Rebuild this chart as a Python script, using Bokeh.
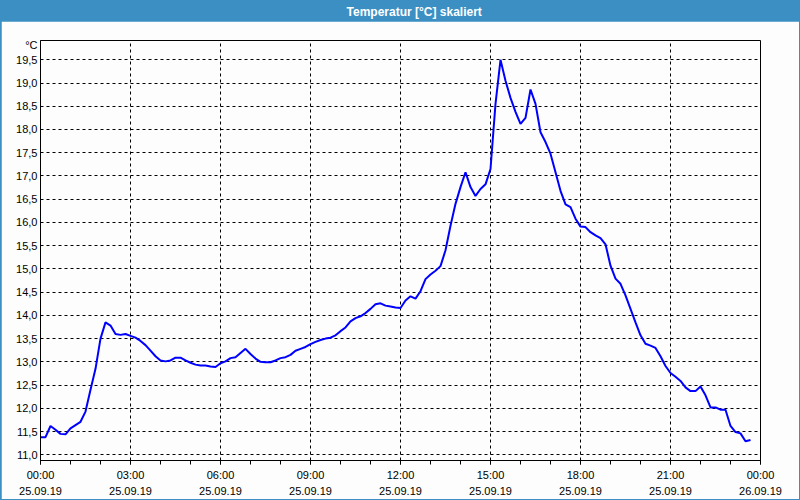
from bokeh.plotting import figure
from bokeh.layouts import column
from bokeh.models import FixedTicker, Range1d
from bokeh.embed import file_html
from bokeh.resources import INLINE
from bokeh.core.properties import value

# ---------------- data ----------------
title_text = "Temperatur [°C] skaliert"
unit_text = "°C"

times = [
    "00:00", "00:10", "00:20", "00:30", "00:40", "00:50",
    "01:00", "01:10", "01:20", "01:30", "01:40", "01:50",
    "02:00", "02:10", "02:20", "02:30", "02:40", "02:50",
    "03:00", "03:10", "03:20", "03:30", "03:40", "03:50",
    "04:00", "04:10", "04:20", "04:30", "04:40", "04:50",
    "05:00", "05:10", "05:20", "05:30", "05:40", "05:50",
    "06:00", "06:10", "06:20", "06:30", "06:40", "06:50",
    "07:00", "07:10", "07:20", "07:30", "07:40", "07:50",
    "08:00", "08:10", "08:20", "08:30", "08:40", "08:50",
    "09:00", "09:10", "09:20", "09:30", "09:40", "09:50",
    "10:00", "10:10", "10:20", "10:30", "10:40", "10:50",
    "11:00", "11:10", "11:20", "11:30", "11:40", "11:50",
    "12:00", "12:10", "12:20", "12:30", "12:40", "12:50",
    "13:00", "13:10", "13:20", "13:30", "13:40", "13:50",
    "14:00", "14:10", "14:20", "14:30", "14:40", "14:50",
    "15:00", "15:10", "15:20", "15:30", "15:40", "15:50",
    "16:00", "16:10", "16:20", "16:30", "16:40", "16:50",
    "17:00", "17:10", "17:20", "17:30", "17:40", "17:50",
    "18:00", "18:10", "18:20", "18:30", "18:40", "18:50",
    "19:00", "19:10", "19:20", "19:30", "19:40", "19:50",
    "20:00", "20:10", "20:20", "20:30", "20:40", "20:50",
    "21:00", "21:10", "21:20", "21:30", "21:40", "21:50",
    "22:00", "22:10", "22:20", "22:30", "22:40", "22:50",
    "23:00", "23:10", "23:20", "23:30", "23:40",
]

temps = [
    11.38, 11.38, 11.62, 11.54, 11.45, 11.44,
    11.57, 11.64, 11.71, 11.93, 12.40, 12.85,
    13.50, 13.85, 13.78, 13.60, 13.58, 13.60,
    13.56, 13.52, 13.45, 13.36, 13.24, 13.12,
    13.03, 13.01, 13.03, 13.09, 13.09, 13.03,
    12.98, 12.94, 12.92, 12.92, 12.90, 12.89,
    12.97, 13.01, 13.08, 13.10, 13.19, 13.28,
    13.17, 13.07, 13.00, 12.99, 12.99, 13.03,
    13.08, 13.10, 13.15, 13.24, 13.28, 13.32,
    13.38, 13.43, 13.47, 13.50, 13.52, 13.57,
    13.66, 13.74, 13.87, 13.94, 13.98, 14.05,
    14.14, 14.24, 14.26, 14.21, 14.19, 14.17,
    14.16, 14.32, 14.41, 14.36, 14.52, 14.78,
    14.88, 14.96, 15.06, 15.40, 15.93, 16.40,
    16.76, 17.08, 16.76, 16.57, 16.72, 16.82,
    17.15, 18.55, 19.50, 19.05, 18.68, 18.38,
    18.12, 18.25, 18.86, 18.55, 17.94, 17.73,
    17.48, 17.08, 16.68, 16.39, 16.33, 16.08,
    15.91, 15.90, 15.79, 15.72, 15.66, 15.53,
    15.07, 14.79, 14.68, 14.43, 14.14, 13.85,
    13.57, 13.39, 13.35, 13.30, 13.12, 12.91,
    12.76, 12.68, 12.59, 12.45, 12.37, 12.37,
    12.47, 12.28, 12.02, 12.02, 11.97, 11.97,
    11.62, 11.49, 11.46, 11.29, 11.32,
]

x_tick_hours = [0, 3, 6, 9, 12, 15, 18, 21, 24]
x_tick_times = ["00:00", "03:00", "06:00", "09:00", "12:00", "15:00", "18:00", "21:00", "00:00"]
x_tick_dates = ["25.09.19", "25.09.19", "25.09.19", "25.09.19", "25.09.19",
                "25.09.19", "25.09.19", "25.09.19", "26.09.19"]
x_minor_hours = list(range(0, 25))
y_ticks = [11.0, 11.5, 12.0, 12.5, 13.0, 13.5, 14.0, 14.5, 15.0, 15.5,
           16.0, 16.5, 17.0, 17.5, 18.0, 18.5, 19.0, 19.5]
y_tick_labels = ["11,0", "11,5", "12,0", "12,5", "13,0", "13,5", "14,0", "14,5", "15,0", "15,5",
                 "16,0", "16,5", "17,0", "17,5", "18,0", "18,5", "19,0", "19,5"]

hours = [int(t[:2]) + int(t[3:]) / 60.0 for t in times]

# ---------------- style ----------------
BAR = "#3c8fc3"
BG = "#fcfdfc"
FONT = "Liberation Sans"
Y_MIN, Y_MAX = 10.877, 19.915
UNIT_POS = 19.81  # where the unit caption sits on the value axis

# title bar
tb = figure(width=798, height=20, x_range=Range1d(0, 1), y_range=Range1d(0, 1),
            toolbar_location=None, output_backend="svg", min_border=0,
            background_fill_color=BAR, border_fill_color=BAR, outline_line_color=None)
tb.axis.visible = False
tb.grid.visible = False
tb.text(x=[0.519], y=[0.5], text=[title_text], text_align="center", text_baseline="middle",
        text_color="white", text_font=value(FONT), text_font_style="bold", text_font_size="12px")

# main plot
p = figure(width=798, height=478, x_range=Range1d(0, 24), y_range=Range1d(Y_MIN, Y_MAX),
           toolbar_location=None, output_backend="svg",
           min_border_left=39, min_border_right=39, min_border_top=19, min_border_bottom=39,
           background_fill_color=BG, border_fill_color=BG,
           outline_line_color="black", outline_line_width=1)

p.line(hours, temps, line_color="#0000ff", line_width=2)

p.xaxis.ticker = FixedTicker(ticks=x_tick_hours, minor_ticks=x_minor_hours)
p.xaxis.major_label_overrides = {h: f"{t}\n{d}" for h, t, d in zip(x_tick_hours, x_tick_times, x_tick_dates)}

# the value axis carries the numeric labels plus the unit caption at the top
p.yaxis.ticker = FixedTicker(ticks=y_ticks + [UNIT_POS])
overrides = {v: s for v, s in zip(y_ticks, y_tick_labels)}
overrides[UNIT_POS] = unit_text
p.yaxis.major_label_overrides = overrides

for ax in (p.xaxis[0], p.yaxis[0]):
    ax.axis_line_color = "black"
    ax.major_label_text_font = FONT
    ax.major_label_text_font_size = "11px"
    ax.major_label_text_color = "black"
    ax.major_tick_line_color = "black"
    ax.minor_tick_line_color = "black"
    ax.major_tick_in = 0
    ax.minor_tick_in = 0

p.xaxis.major_tick_out = 4
p.xaxis.minor_tick_out = 4
p.xaxis.major_label_standoff = 4
p.xaxis.major_label_text_line_height = 1.35
p.yaxis.major_tick_out = 0
p.yaxis.minor_tick_out = 0
p.yaxis.major_label_standoff = 3

p.xgrid.grid_line_color = "black"
p.xgrid.grid_line_dash = "3 3"
p.ygrid.ticker = FixedTicker(ticks=y_ticks)
p.ygrid.grid_line_color = "black"
p.ygrid.grid_line_dash = "3 3"

layout = column(tb, p, spacing=0, styles={"border": "1px solid " + BAR, "background-color": BAR})

open("out.html", "w").write(file_html(layout, INLINE))
